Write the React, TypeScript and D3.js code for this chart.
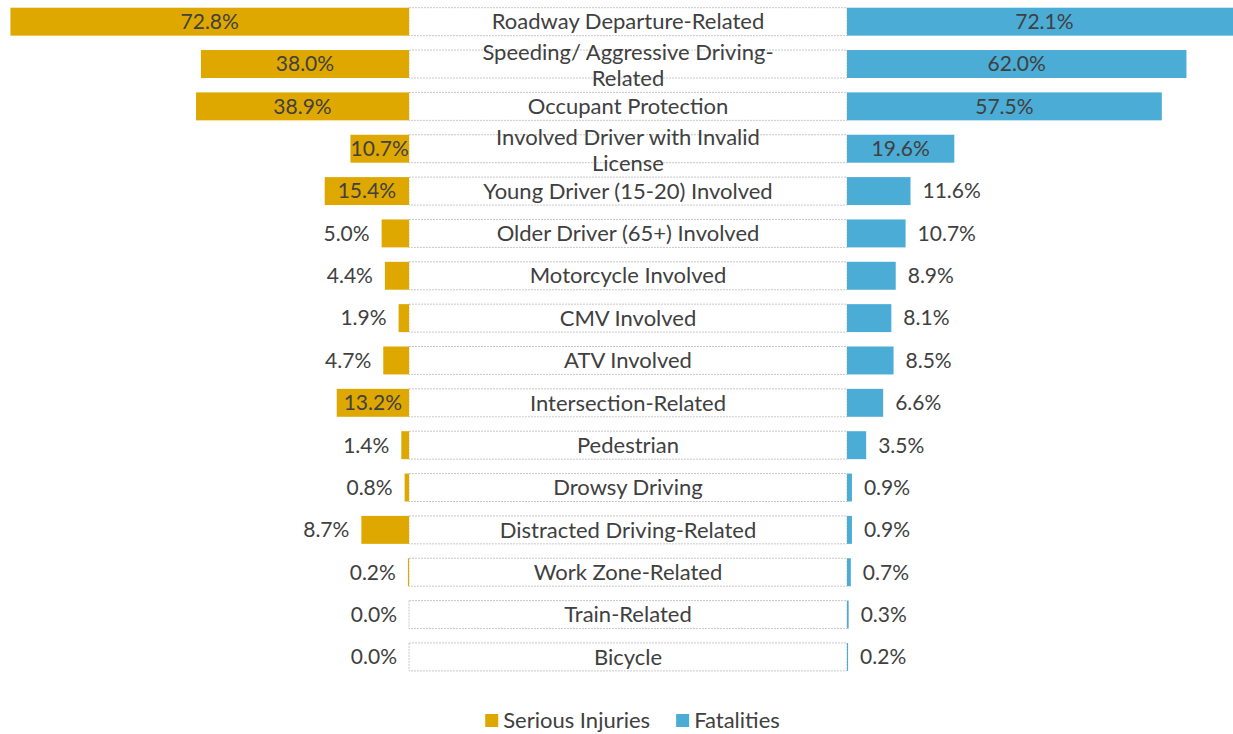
import React, { useEffect, useRef } from "react";
import * as d3 from "d3";

const categories = [
  "Roadway Departure-Related",
  "Speeding/ Aggressive Driving-Related",
  "Occupant Protection",
  "Involved Driver with Invalid License",
  "Young Driver (15-20) Involved",
  "Older Driver (65+) Involved",
  "Motorcycle Involved",
  "CMV Involved",
  "ATV Involved",
  "Intersection-Related",
  "Pedestrian",
  "Drowsy Driving",
  "Distracted Driving-Related",
  "Work Zone-Related",
  "Train-Related",
  "Bicycle",
];

const seriousInjuries = [72.8, 38.0, 38.9, 10.7, 15.4, 5.0, 4.4, 1.9, 4.7, 13.2, 1.4, 0.8, 8.7, 0.2, 0.0, 0.0];
const fatalities = [72.1, 62.0, 57.5, 19.6, 11.6, 10.7, 8.9, 8.1, 8.5, 6.6, 3.5, 0.9, 0.9, 0.7, 0.3, 0.2];
const seriesNames = ["Serious Injuries", "Fatalities"];

const W = 1233,
  H = 734,
  FONT = "Lato, 'Open Sans', sans-serif",
  TEXT = "#404040",
  GOLD = "#DFA800",
  BLUE = "#4BACD6";

const drawChart = (svgEl: SVGSVGElement) => {
  const svg = d3.select(svgEl);
  svg.selectAll("*").remove();

  const leftEdge = 409,
    rightEdge = 847;

  const x = d3.scaleLinear().domain([0, 100]).range([0, 547.5]);
  const y = d3
    .scaleBand<string>()
    .domain(categories)
    .range([0.5, 678.1])
    .paddingInner(0.34)
    .paddingOuter(0.17);
  const bw = y.bandwidth();

  const g = svg.append("g").attr("font-family", FONT).attr("fill", TEXT);

  // center label boxes
  g.selectAll("rect.box")
    .data(categories)
    .enter()
    .append("rect")
    .attr("class", "box")
    .attr("x", leftEdge)
    .attr("y", (d) => y(d)!)
    .attr("width", rightEdge - leftEdge)
    .attr("height", bw)
    .attr("fill", "#fff")
    .attr("stroke", "#c8c8c8")
    .attr("stroke-dasharray", "2,1")
    .attr("stroke-width", 1);

  // serious injuries (left)
  g.selectAll("rect.si")
    .data(seriousInjuries)
    .enter()
    .append("rect")
    .attr("x", (d) => leftEdge - x(d))
    .attr("y", (d, i) => y(categories[i])!)
    .attr("width", (d) => x(d))
    .attr("height", bw)
    .attr("fill", GOLD);

  // fatalities (right)
  g.selectAll("rect.fa")
    .data(fatalities)
    .enter()
    .append("rect")
    .attr("x", rightEdge)
    .attr("y", (d, i) => y(categories[i])!)
    .attr("width", (d) => x(d))
    .attr("height", bw)
    .attr("fill", BLUE);

  const fmt = (v: number) => v.toFixed(1) + "%";

  g.selectAll("text.sil")
    .data(seriousInjuries)
    .enter()
    .append("text")
    .attr("font-size", 21)
    .attr("dy", "0.35em")
    .attr("y", (d, i) => y(categories[i])! + bw / 2)
    .attr("x", (d) => (d >= 10 ? leftEdge - x(d) / 2 : leftEdge - x(d) - 12))
    .attr("text-anchor", (d) => (d >= 10 ? "middle" : "end"))
    .text(fmt);

  g.selectAll("text.fal")
    .data(fatalities)
    .enter()
    .append("text")
    .attr("font-size", 21)
    .attr("dy", "0.35em")
    .attr("y", (d, i) => y(categories[i])! + bw / 2)
    .attr("x", (d) => (d >= 15 ? rightEdge + x(d) / 2 : rightEdge + x(d) + 12))
    .attr("text-anchor", (d) => (d >= 15 ? "middle" : "start"))
    .text(fmt);

  // category labels, wrapped
  const maxW = 320;
  categories.forEach((c) => {
    const cy = y(c)! + bw / 2;
    const tokens = c.match(/[^\s-]+(-|\s+|$)/g) || [c];
    const probe = g.append("text").attr("font-size", 22);
    const lines: string[] = [];
    let cur = "";
    tokens.forEach((t) => {
      const test = (cur + t).trimEnd();
      probe.text(test);
      if (cur && (probe.node() as SVGTextElement).getComputedTextLength() > maxW) {
        lines.push(cur.trimEnd());
        cur = t;
      } else cur += t;
    });
    lines.push(cur.trimEnd());
    probe.remove();
    const lh = 26;
    const shift = lines.length > 1 ? 1.5 : 0;
    lines.forEach((ln, k) => {
      g.append("text")
        .attr("font-size", 22)
        .attr("text-anchor", "middle")
        .attr("x", (leftEdge + rightEdge) / 2)
        .attr("y", cy + shift + (k - (lines.length - 1) / 2) * lh)
        .attr("dy", "0.35em")
        .text(ln);
    });
  });

  // legend
  const colors = [GOLD, BLUE];
  const leg = g.append("g");
  let lx = 0;
  seriesNames.forEach((name, i) => {
    leg
      .append("rect")
      .attr("x", lx)
      .attr("y", 714)
      .attr("width", 13)
      .attr("height", 13)
      .attr("fill", colors[i]);
    const t = leg
      .append("text")
      .attr("font-size", 22)
      .attr("x", lx + 18)
      .attr("y", 720.5)
      .attr("dy", "0.35em")
      .text(name);
    lx += 18 + (t.node() as SVGTextElement).getComputedTextLength() + 26;
  });
  const legW = lx - 26;
  leg.attr("transform", "translate(" + (632.5 - legW / 2) + ",0)");
};

const App = () => {
  const svgRef = useRef<SVGSVGElement>(null);

  useEffect(() => {
    document.body.style.margin = "0";
    if (svgRef.current) drawChart(svgRef.current);
  }, []);

  return (
    <svg ref={svgRef} width={W} height={H} style={{ display: "block", background: "#fff" }} />
  );
};

export default App;
